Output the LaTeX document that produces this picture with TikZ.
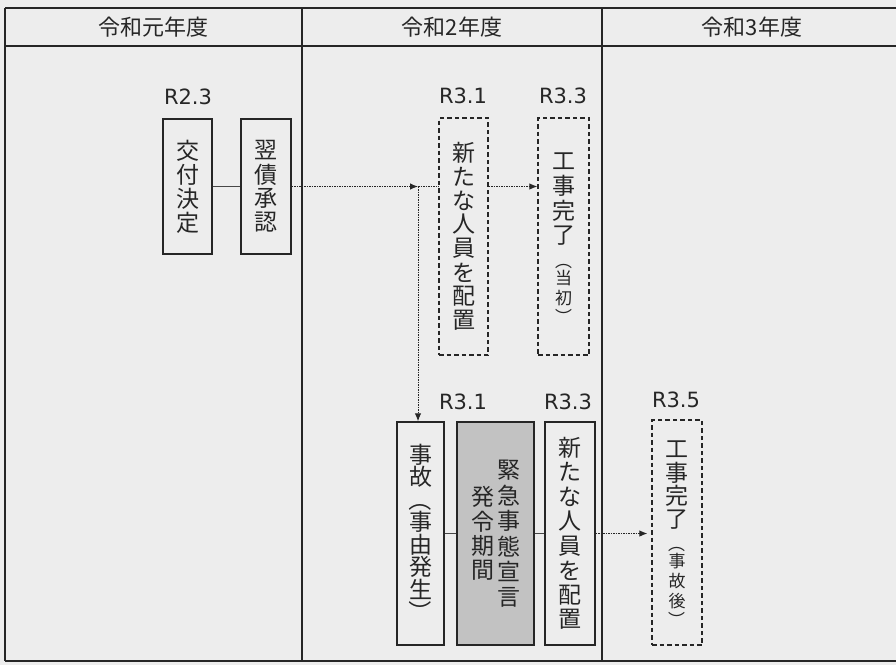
\documentclass[tikz,border=0pt]{standalone}
\usepackage{fontspec}
\usepackage{graphicx}
\setmainfont{DejaVu Sans}
\newfontfamily\jp{Noto Sans CJK JP}
\newfontfamily\lat{DejaVu Sans}
\usetikzlibrary{arrows.meta}
\definecolor{bg}{HTML}{EDEDED}
\definecolor{ink}{HTML}{262626}
\definecolor{shade}{HTML}{C2C2C2}
\newcommand\vcell[2][24pt]{\hbox to 28pt{\hss\vbox to #1{\vss\hbox{#2}\vss}\hss}}
\newcommand\vcol[1]{\ensuremath{\vcenter{\offinterlineskip #1}}}
\newcommand\vop{\rotatebox[origin=c]{-90}{（}}
\newcommand\vcp{\rotatebox[origin=c]{-90}{）}}
\tikzset{
  solidbox/.style={draw=ink, line width=1.4pt, fill=bg, inner sep=0pt},
  dashbox/.style={draw=ink, line width=1.3pt, dash pattern=on 4.5pt off 3pt, fill=bg, inner sep=0pt},
  shadebox/.style={draw=ink, line width=1.4pt, fill=shade, inner sep=0pt},
  jtext/.style={font=\jp\fontsize{23}{24}\selectfont, text=ink},
  rlabel/.style={font=\lat\fontsize{21}{24}\selectfont, text=ink, inner sep=0pt},
  head/.style={font=\jp\fontsize{22}{26}\selectfont, text=ink, inner sep=0pt},
  grid/.style={draw=ink, line width=1.4pt},
  link/.style={draw=ink!85, line width=0.8pt},
  dotlink/.style={draw=ink, line width=1pt, dash pattern=on 1.5pt off 1pt},
  tip/.style={-{Latex[length=8pt,width=6.5pt]}},
}
\begin{document}
\begin{tikzpicture}[x=1pt,y=-1pt]
\fill[bg] (0,0) rectangle (896,665);
\useasboundingbox (0,0) rectangle (896,665);
% table
\draw[grid] (5,8) -- (896,8);
\draw[grid] (5,46) -- (896,46);
\draw[grid] (5,661) -- (896,661);
\draw[grid] (5,8) -- (5,661);
\draw[grid] (302,8) -- (302,661);
\draw[grid] (602,8) -- (602,661);
% headers
\node[head] (h1) at (153.5,27) {令和元年度};
\node[head] (h2) at (452,27) {令和2年度};
\node[head] (h3) at (752,27) {令和3年度};
% labels
\node[rlabel] (r23) at (188,97) {R2.3};
\node[rlabel] (r31a) at (463,96) {R3.1};
\node[rlabel] (r33a) at (563,96) {R3.3};
\node[rlabel] (r31b) at (463,402) {R3.1};
\node[rlabel] (r33b) at (568,402) {R3.3};
\node[rlabel] (r35) at (676,400) {R3.5};
% upper boxes
\node[solidbox, jtext, minimum width=49pt, minimum height=135pt] (koufu) at (187.5,186.5)
  {\vcol{\vcell{交}\vcell{付}\vcell{決}\vcell{定}}};
\node[solidbox, jtext, minimum width=50pt, minimum height=135pt] (yokusai) at (266,186.5)
  {\vcol{\vcell{翌}\vcell{債}\vcell{承}\vcell{認}}};
\node[dashbox, jtext, minimum width=49pt, minimum height=237pt] (shin1) at (463.5,236.5)
  {\vcol{\vcell{新}\vcell{た}\vcell{な}\vcell{人}\vcell{員}\vcell{を}\vcell{配}\vcell{置}}};
\node[dashbox, jtext, minimum width=51pt, minimum height=237pt] (kan1) at (563.5,236.5)
  {\vcol{\vcell[25pt]{工}\vcell[25pt]{事}\vcell[25pt]{完}\vcell[25pt]{了}\vskip4pt
   \jp\fontsize{17}{19}\selectfont\vcell[16pt]{\vop}\vcell[20pt]{当}\vcell[20pt]{初}\vcell[16pt]{\vcp}}};
% lower boxes
\node[solidbox, jtext, minimum width=47pt, minimum height=223pt] (jiko) at (420.5,533.5)
  {\vcol{\vcell[22.5pt]{事}\vcell[22.5pt]{故}\vcell[22.5pt]{\vop}\vcell[22.5pt]{事}\vcell[22.5pt]{由}\vcell[22.5pt]{発}\vcell[22.5pt]{生}\vcell[22.5pt]{\vcp}}};
\node[shadebox, jtext, minimum width=77pt, minimum height=223pt] (kinkyu) at (495.5,533.5)
  {\vcol{\vcell[24.5pt]{発}\vcell[24.5pt]{令}\vcell[24.5pt]{期}\vcell[24.5pt]{間}}\kern-2pt
   \vcol{\vcell[25.4pt]{緊}\vcell[25.4pt]{急}\vcell[25.4pt]{事}\vcell[25.4pt]{態}\vcell[25.4pt]{宣}\vcell[25.4pt]{言}}};
\node[solidbox, jtext, minimum width=50pt, minimum height=223pt] (shin2) at (570,533.5)
  {\vcol{\vcell[24.6pt]{新}\vcell[24.6pt]{た}\vcell[24.6pt]{な}\vcell[24.6pt]{人}\vcell[24.6pt]{員}\vcell[24.6pt]{を}\vcell[24.6pt]{配}\vcell[24.6pt]{置}}};
\node[dashbox, jtext, minimum width=50pt, minimum height=225pt] (kan2) at (677,532.5)
  {\vcol{\vcell[23.5pt]{工}\vcell[23.5pt]{事}\vcell[23.5pt]{完}\vcell[23.5pt]{了}\vskip4pt
   \jp\fontsize{17}{19}\selectfont\vcell[16pt]{\vop}\vcell[20pt]{事}\vcell[20pt]{故}\vcell[20pt]{後}\vcell[16pt]{\vcp}}};
% connectors
\coordinate (J) at (418,186.5);
\draw[link] (koufu.east) -- (yokusai.west);
\draw[dotlink, tip] (yokusai.east) -- (J);
\draw[dotlink] (J) -- (shin1.west |- J);
\draw[dotlink, tip] (J) -- (J |- jiko.north);
\draw[dotlink, tip] (shin1.east |- J) -- (kan1.west |- J);
\draw[link] (jiko.east) -- (kinkyu.west);
\draw[link] (kinkyu.east) -- (shin2.west);
\draw[dotlink, tip, shorten >=4pt] (shin2.east) -- (kan2.west |- shin2.east);
\end{tikzpicture}
\end{document}
